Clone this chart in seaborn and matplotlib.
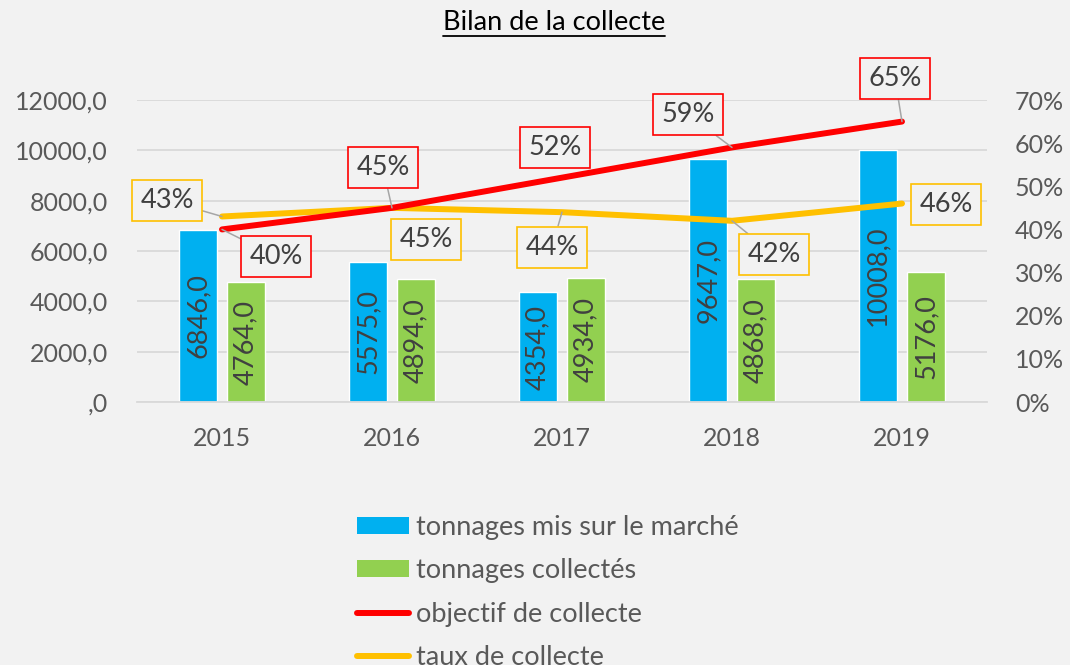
import numpy as np
import pandas as pd
import matplotlib
matplotlib.use("Agg")
import matplotlib.pyplot as plt
import seaborn as sns
from matplotlib.patches import Patch
from matplotlib.lines import Line2D

# ---- data ----
years = ["2015", "2016", "2017", "2018", "2019"]
tonnages_marche = [6846.0, 5575.0, 4354.0, 9647.0, 10008.0]
tonnages_collectes = [4764.0, 4894.0, 4934.0, 4868.0, 5176.0]
objectif = [0.40, 0.45, 0.52, 0.59, 0.65]
taux = [0.43, 0.45, 0.44, 0.42, 0.46]
series_names = ["tonnages mis sur le marché", "tonnages collectés",
                "objectif de collecte", "taux de collecte"]
title = "Bilan de la collecte"
left_ticks = [0, 2000, 4000, 6000, 8000, 10000, 12000]
right_ticks = [0.0, 0.1, 0.2, 0.3, 0.4, 0.5, 0.6, 0.7]

# ---- label placement (pixel offsets from the point: dx right, dy down) ----
obj_offsets = [(54, 27), (-9, -40), (-7, -30), (-44, -33), (-7, -43)]
obj_leader = [True, True, False, True, True]
taux_offsets = [(-55, -16), (34, 32), (-10, 35), (42, 34), (44, 1)]
taux_leader = [True, False, True, True, False]

BG = "#F2F2F2"
TXT = "#595959"
LBL = "#404040"
BLUE, GREEN, RED, GOLD = "#00B0F0", "#92D050", "#FF0000", "#FFC000"
FS = 18

sns.set_theme(style="white")
plt.rcParams["font.family"] = ["Lato", "DejaVu Sans"]

fig = plt.figure(figsize=(10.7, 6.65), dpi=100, facecolor=BG)
ax = fig.add_axes([137 / 1070, 1 - 402 / 665, 850 / 1070, 302 / 665])
ax.set_facecolor(BG)

df = pd.DataFrame({
    "année": years * 2,
    "tonnage": tonnages_marche + tonnages_collectes,
    "série": [series_names[0]] * len(years) + [series_names[1]] * len(years),
})
sns.barplot(data=df, x="année", y="tonnage", hue="série",
            palette=[BLUE, GREEN], width=0.565, gap=0.2, saturation=1,
            ax=ax, legend=False, errorbar=None)

for cont in ax.containers:
    labs = [f"{b.get_height():.1f}".replace(".", ",") for b in cont]
    ax.bar_label(cont, labels=labs, label_type="center", rotation=90,
                 color=LBL, fontsize=19.5)

ax.set_ylim(0, 12000)
ax.set_xlim(-0.5, 4.5)
ax.set_yticks(left_ticks)
ax.set_yticklabels([(f"{v:.1f}".replace(".", ",") if v else ",0") for v in left_ticks])
ax.yaxis.grid(True, color="#D9D9D9", lw=1.3)
ax.set_axisbelow(True)
for s in ["left", "right", "top"]:
    ax.spines[s].set_visible(False)
ax.spines["bottom"].set_color("#D9D9D9")
ax.spines["bottom"].set_linewidth(1.3)
ax.tick_params(axis="y", length=0, pad=21, labelsize=FS, labelcolor=TXT)
ax.tick_params(axis="x", length=0, pad=18, labelsize=FS, labelcolor=TXT)
ax.set_xlabel("")
ax.set_ylabel("")

ax2 = ax.twinx()
ax2.set_ylim(0, 0.7)
xs = np.arange(len(years))
sns.lineplot(x=xs, y=taux, ax=ax2, color=GOLD, lw=4.3, solid_capstyle="round")
sns.lineplot(x=xs, y=objectif, ax=ax2, color=RED, lw=4.3, solid_capstyle="round")
ax2.set_yticks(right_ticks)
ax2.set_yticklabels([f"{int(round(v * 100))}%" for v in right_ticks])
ax2.tick_params(axis="y", length=0, pad=20, labelsize=FS, labelcolor=TXT)
for s in ax2.spines.values():
    s.set_visible(False)
ax2.set_ylabel("")
ax2.grid(False)
ax2.set_xlim(-0.5, 4.5)


def add_labels(vals, offsets, leaders, color):
    for i, v in enumerate(vals):
        dx, dy = offsets[i]
        ap = dict(arrowstyle="-", color="#A6A6A6", lw=1.1, shrinkA=0, shrinkB=0) if leaders[i] else None
        ax2.annotate(f"{int(round(v * 100))}%", xy=(i, v), xytext=(dx * 0.72, -dy * 0.72),
                     textcoords="offset points", ha="center", va="center",
                     fontsize=19.5, color=LBL, zorder=5,
                     bbox=dict(boxstyle="square,pad=0.3", fc=BG, ec=color, lw=1.2),
                     arrowprops=ap)


add_labels(objectif, obj_offsets, obj_leader, RED)
add_labels(taux, taux_offsets, taux_leader, GOLD)

t = fig.text(554 / 1070, 1 - 22 / 665, title, ha="center", va="center",
             fontsize=19.5, color="black")

handles = [
    Patch(facecolor=BLUE, edgecolor="none"),
    Patch(facecolor=GREEN, edgecolor="none"),
    Line2D([0], [0], color=RED, lw=4.3, solid_capstyle="round"),
    Line2D([0], [0], color=GOLD, lw=4.3, solid_capstyle="round"),
]
fig.legend(handles, series_names, loc="upper left",
           bbox_to_anchor=(357 / 1070, 1 - 515 / 665), frameon=False,
           fontsize=19.5, labelcolor=TXT, handlelength=1.93, handleheight=0.6,
           handletextpad=0.26, labelspacing=0.68, borderpad=0, borderaxespad=0)

fig.canvas.draw()
bb = t.get_window_extent()
W, H = fig.bbox.width, fig.bbox.height
yline = (bb.y0 - 1) / H
fig.add_artist(Line2D([bb.x0 / W, bb.x1 / W], [yline, yline], color="black", lw=1.3))

fig.savefig("out.png", dpi=100, facecolor=BG)
